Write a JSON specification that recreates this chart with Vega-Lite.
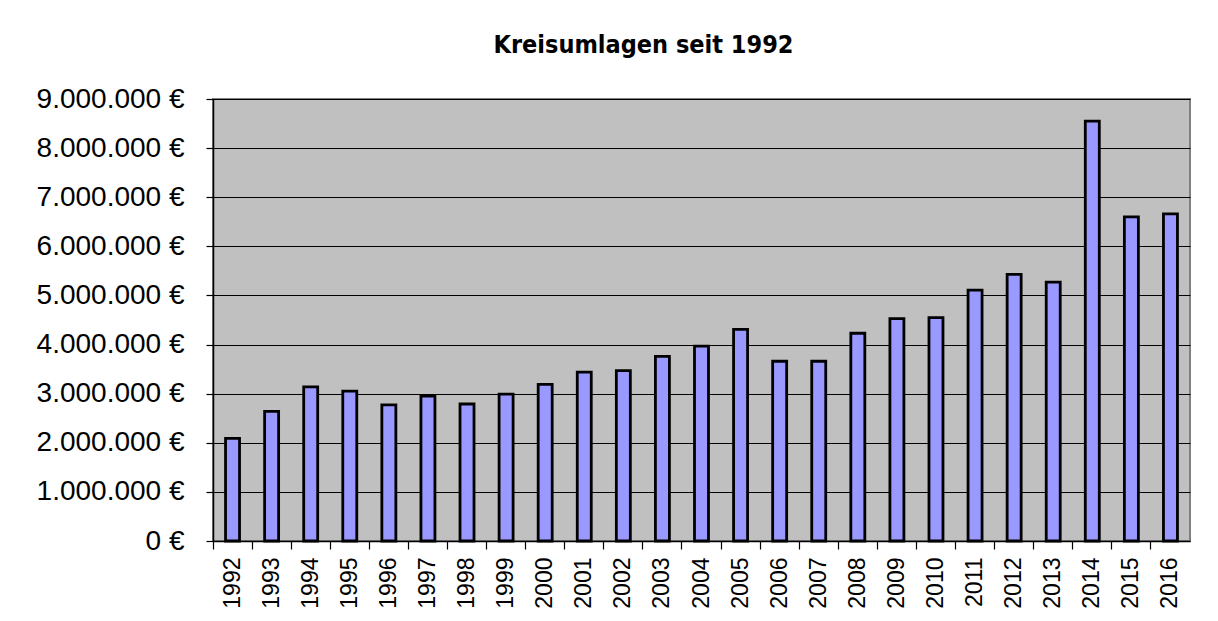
{
  "$schema": "https://vega.github.io/schema/vega-lite/v6.json",
  "width": 977,
  "height": 442,
  "autosize": {"type": "none"},
  "padding": {"left": 213, "top": 99, "right": 28, "bottom": 80},
  "background": "#ffffff",
  "title": {
    "text": "Kreisumlagen seit 1992",
    "font": "DejaVu Sans Condensed",
    "fontWeight": "bold",
    "fontSize": 25,
    "color": "#000000",
    "anchor": "middle",
    "baseline": "alphabetic",
    "offset": 7,
    "dx": -58
  },
  "data": {
    "values": [
      {"Jahr": "1992", "Betrag": 2090000},
      {"Jahr": "1993", "Betrag": 2640000},
      {"Jahr": "1994", "Betrag": 3140000},
      {"Jahr": "1995", "Betrag": 3050000},
      {"Jahr": "1996", "Betrag": 2770000},
      {"Jahr": "1997", "Betrag": 2950000},
      {"Jahr": "1998", "Betrag": 2790000},
      {"Jahr": "1999", "Betrag": 2990000},
      {"Jahr": "2000", "Betrag": 3190000},
      {"Jahr": "2001", "Betrag": 3440000},
      {"Jahr": "2002", "Betrag": 3470000},
      {"Jahr": "2003", "Betrag": 3760000},
      {"Jahr": "2004", "Betrag": 3970000},
      {"Jahr": "2005", "Betrag": 4310000},
      {"Jahr": "2006", "Betrag": 3660000},
      {"Jahr": "2007", "Betrag": 3660000},
      {"Jahr": "2008", "Betrag": 4230000},
      {"Jahr": "2009", "Betrag": 4530000},
      {"Jahr": "2010", "Betrag": 4550000},
      {"Jahr": "2011", "Betrag": 5110000},
      {"Jahr": "2012", "Betrag": 5430000},
      {"Jahr": "2013", "Betrag": 5270000},
      {"Jahr": "2014", "Betrag": 8550000},
      {"Jahr": "2015", "Betrag": 6600000},
      {"Jahr": "2016", "Betrag": 6660000}
    ]
  },
  "mark": {"type": "bar", "size": 14, "fill": "#9999FF", "stroke": "#000000", "strokeWidth": 2.8},
  "encoding": {
    "x": {
      "field": "Jahr",
      "type": "ordinal",
      "scale": {"paddingInner": 0, "paddingOuter": 0},
      "axis": {
        "title": null,
        "labelAngle": -90,
        "labelAlign": "right",
        "labelBaseline": "middle",
        "labelFont": "Liberation Sans",
        "labelFontSize": 23,
        "labelColor": "#000000",
        "labelPadding": 8,
        "bandPosition": 0,
        "ticks": true,
        "tickSize": 8,
        "tickColor": "#000000",
        "tickWidth": 1.2,
        "domainColor": "#000000",
        "domainWidth": 1.5,
        "grid": false
      }
    },
    "y": {
      "field": "Betrag",
      "type": "quantitative",
      "scale": {"domain": [0, 9000000], "nice": false},
      "axis": {
        "title": null,
        "values": [0, 1000000, 2000000, 3000000, 4000000, 5000000, 6000000, 7000000, 8000000, 9000000],
        "labelExpr": "replace(format(datum.value, ',d'), regexp(',', 'g'), '.') + ' €'",
        "labelFont": "Liberation Sans",
        "labelFontSize": 28,
        "labelColor": "#000000",
        "labelPadding": 22,
        "tickSize": 7,
        "tickColor": "#000000",
        "tickWidth": 1.2,
        "domainColor": "#000000",
        "domainWidth": 1.5,
        "grid": true,
        "gridColor": "#000000",
        "gridWidth": 1.2,
        "gridOpacity": 1
      }
    }
  },
  "config": {
    "view": {"fill": "#C0C0C0", "stroke": "#808080", "strokeWidth": 2}
  }
}
